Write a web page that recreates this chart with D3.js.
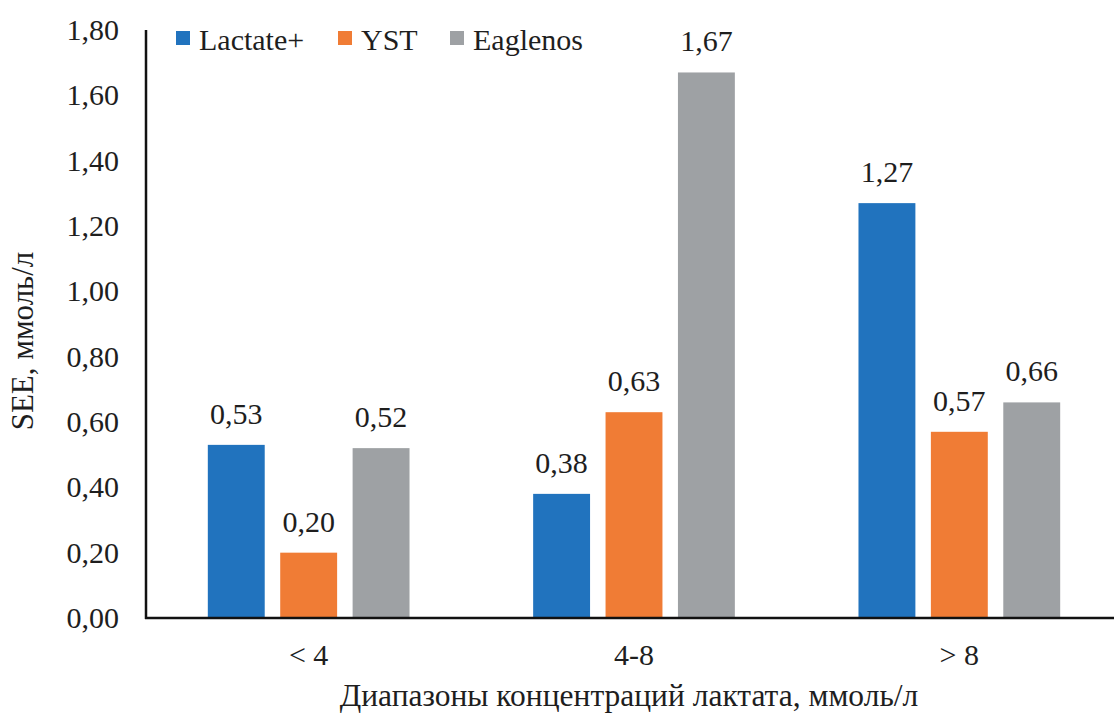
<!DOCTYPE html>
<html>
<head>
<meta charset="utf-8">
<script src="https://cdn.jsdelivr.net/npm/d3@7"></script>
<style>
  body { margin: 0; background: #fff; }
  svg { display: block; }
</style>
</head>
<body>
<div id="chart"></div>
<script>
// Data
const categories = ["< 4", "4-8", "> 8"];
const seriesNames = ["Lactate+", "YST", "Eaglenos"];
const lactateValues = [0.53, 0.38, 1.27];
const ystValues = [0.20, 0.63, 0.57];
const eaglenosValues = [0.52, 1.67, 0.66];
const yTicks = [0, 0.2, 0.4, 0.6, 0.8, 1.0, 1.2, 1.4, 1.6, 1.8];

const colors = ["#2173be", "#f07c35", "#9ea1a4"];
const valuesBySeries = [lactateValues, ystValues, eaglenosValues];

const width = 1114;
const height = 715;
const margin = { left: 146, right: -8, top: 30, bottom: 97 };
const fontFamily = "'Liberation Serif', 'Times New Roman', Times, serif";
const fontSize = 30;

const svg = d3.select("#chart")
  .append("svg")
  .attr("width", width)
  .attr("height", height);

const textAttr = (sel, size) => {
  sel
    .attr("font-family", fontFamily)
    .attr("font-size", size || fontSize)
    .attr("fill", "#1e1e1e");
};

const x0 = d3.scaleBand()
  .domain(categories)
  .range([margin.left, width - margin.right])
  .paddingInner(0.38)
  .paddingOuter(0.19);

const x1 = d3.scaleBand()
  .domain(seriesNames)
  .range([0, x0.bandwidth()])
  .paddingInner(0.214);

const y = d3.scaleLinear()
  .domain([0, 1.8])
  .range([height - margin.bottom, margin.top]);

const fmt = v => d3.format(".2f")(v).replace(".", ",");

// y tick labels
svg.selectAll("text.ytick")
  .data(yTicks)
  .enter()
  .append("text")
  .attr("class", "ytick")
  .attr("x", 119)
  .attr("y", d => y(d) + 10)
  .attr("text-anchor", "end")
  .call(textAttr)
  .text(fmt);

// bars
const groups = svg.selectAll("g.group")
  .data(categories)
  .enter()
  .append("g")
  .attr("class", "group")
  .attr("transform", d => `translate(${x0(d)},0)`);

groups.each(function(cat, ci) {
  const g = d3.select(this);
  const rows = seriesNames.map((s, si) => ({ s: s, v: valuesBySeries[si][ci], c: colors[si] }));
  g.selectAll("rect")
    .data(rows)
    .enter()
    .append("rect")
    .attr("x", d => x1(d.s))
    .attr("y", d => y(d.v))
    .attr("width", x1.bandwidth())
    .attr("height", d => y(0) - y(d.v))
    .attr("fill", d => d.c);
  g.selectAll("text.val")
    .data(rows)
    .enter()
    .append("text")
    .attr("class", "val")
    .attr("x", d => x1(d.s) + x1.bandwidth() / 2)
    .attr("y", d => y(d.v) - 21)
    .attr("text-anchor", "middle")
    .call(textAttr)
    .text(d => fmt(d.v));
});

// axes lines
svg.append("line")
  .attr("x1", margin.left).attr("x2", margin.left)
  .attr("y1", y(1.8)).attr("y2", y(0) + 1)
  .attr("stroke", "#111").attr("stroke-width", 2.5);
svg.append("line")
  .attr("x1", margin.left - 1).attr("x2", width)
  .attr("y1", y(0)).attr("y2", y(0))
  .attr("stroke", "#111").attr("stroke-width", 2.5);

// category labels
svg.selectAll("text.cat")
  .data(categories)
  .enter()
  .append("text")
  .attr("class", "cat")
  .attr("x", d => x0(d) + x0.bandwidth() / 2)
  .attr("y", 665)
  .attr("text-anchor", "middle")
  .call(textAttr)
  .text(d => d);

// axis titles
svg.append("text")
  .attr("x", 629)
  .attr("y", 706)
  .attr("text-anchor", "middle")
  .call(textAttr, 31.5)
  .text("Диапазоны концентраций лактата, ммоль/л");

svg.append("text")
  .attr("transform", "translate(33,341) rotate(-90)")
  .attr("text-anchor", "middle")
  .call(textAttr, 31)
  .text("SEE, ммоль/л");

// legend
const legendX = [176, 338, 450];
const legend = svg.selectAll("g.legend")
  .data(seriesNames)
  .enter()
  .append("g")
  .attr("class", "legend")
  .attr("transform", (d, i) => `translate(${legendX[i]},0)`);
legend.append("rect")
  .attr("x", 0).attr("y", 31)
  .attr("width", 14).attr("height", 14)
  .attr("fill", (d, i) => colors[i]);
legend.append("text")
  .attr("x", 23).attr("y", 50)
  .call(textAttr)
  .text(d => d);
</script>
</body>
</html>
